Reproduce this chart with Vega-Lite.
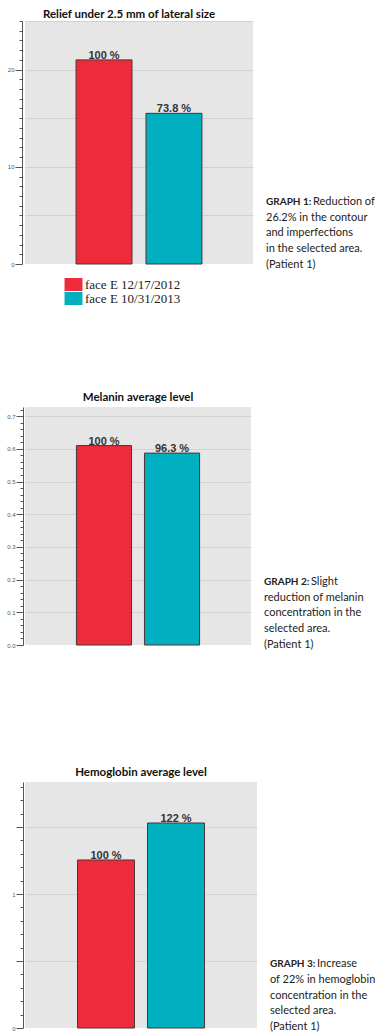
{
  "$schema": "https://vega.github.io/schema/vega-lite/v6.json",
  "padding": {"top": 9, "left": 0, "right": 0, "bottom": 0},
  "background": "white",
  "spacing": 0,
  "config": {
    "view": {"stroke": null},
    "axis": {"domainColor": "#555", "tickColor": "#555", "labelColor": "#555", "labelFont": "Liberation Sans", "labelFontSize": 6, "labelPadding": 1, "title": null, "gridColor": "#d2d2d2"},
    "title": {"font": "Lato", "fontSize": 11.5, "fontWeight": "bold", "color": "#111", "offset": 4},
    "legend": {"labelFont": "Liberation Serif", "labelFontSize": 13, "labelColor": "#222", "symbolType": "M-1.38,-1H1.38V1H-1.38Z", "symbolSize": 169, "symbolStrokeWidth": 0, "rowPadding": -3, "labelOffset": 5, "title": null}
  },
  "datasets": {
    "relief": [
      {"date": "face E 12/17/2012", "value": 21, "label": "100 %"},
      {"date": "face E 10/31/2013", "value": 15.5, "label": "73.8 %"}
    ],
    "melanin": [
      {"date": "face E 12/17/2012", "value": 0.61, "label": "100 %"},
      {"date": "face E 10/31/2013", "value": 0.587, "label": "96.3 %"}
    ],
    "hemoglobin": [
      {"date": "face E 12/17/2012", "value": 1.254, "label": "100 %"},
      {"date": "face E 10/31/2013", "value": 1.53, "label": "122 %"}
    ],
    "cap1": [
      {"line": 0, "prefix": "GRAPH 1:", "text": "Reduction of"},
      {"line": 1, "prefix": "", "text": "26.2% in the contour"},
      {"line": 2, "prefix": "", "text": "and imperfections"},
      {"line": 3, "prefix": "", "text": "in the selected area."},
      {"line": 4, "prefix": "", "text": "(Patient 1)"}
    ],
    "cap2": [
      {"line": 0, "prefix": "GRAPH 2:", "text": "Slight"},
      {"line": 1, "prefix": "", "text": "reduction of melanin"},
      {"line": 2, "prefix": "", "text": "concentration in the"},
      {"line": 3, "prefix": "", "text": "selected area."},
      {"line": 4, "prefix": "", "text": "(Patient 1)"}
    ],
    "cap3": [
      {"line": 0, "prefix": "GRAPH 3:", "text": "Increase"},
      {"line": 1, "prefix": "", "text": "of 22% in hemoglobin"},
      {"line": 2, "prefix": "", "text": "concentration in the"},
      {"line": 3, "prefix": "", "text": "selected area."},
      {"line": 4, "prefix": "", "text": "(Patient 1)"}
    ]
  },
  "vconcat": [
    {
      "hconcat": [
        {
          "width": 228, "height": 243,
          "title": {"text": "Relief under 2.5 mm of lateral size", "dx": -10, "dy": 4},
          "data": {"name": "relief"},
          "view": {"fill": "#e6e6e6", "stroke": null},
          "encoding": {
            "x": {"field": "date", "type": "nominal", "sort": null, "axis": null, "scale": {"paddingInner": 0.2, "paddingOuter": 0.73}},
            "y": {"field": "value", "type": "quantitative", "scale": {"domain": [0, 25], "nice": false},
              "axis": {"values": [0,1,2,3,4,5,6,7,8,9,10,11,12,13,14,15,16,17,18,19,20,21,22,23,24,25], "offset": 3, "minExtent": 19,
                "labelExpr": "datum.value % 10 === 0 ? datum.label : ''",
                "tickSize": {"condition": {"test": "datum.value % 10 === 0", "value": 7}, "value": 3},
                "grid": true,
                "gridOpacity": {"condition": {"test": "datum.value % 5 === 0 && datum.value > 0", "value": 1}, "value": 0}}}
          },
          "layer": [
            {"mark": {"type": "bar", "stroke": "#4a3535", "strokeWidth": 1},
             "encoding": {"color": {"field": "date", "type": "nominal", "sort": null,
               "scale": {"domain": ["face E 12/17/2012", "face E 10/31/2013"], "range": ["#ee2b3b", "#00b0c0"]},
               "legend": {"orient": "none", "legendX": 42, "legendY": 257, "direction": "vertical"}}}},
            {"mark": {"type": "text", "baseline": "alphabetic", "dy": -1, "font": "Liberation Sans", "fontWeight": "bold", "fontSize": 11, "color": "#333"},
             "encoding": {"text": {"field": "label"}}}
          ]
        },
        {
          "width": 110, "height": 370,
          "data": {"name": "cap1"},
          "encoding": {
            "x": {"datum": 0, "type": "quantitative", "scale": {"domain": [0, 1]}, "axis": null},
            "y": {"field": "line", "type": "quantitative", "scale": {"domain": [-11.492, 12.0], "reverse": true, "nice": false, "zero": false}, "axis": null}
          },
          "layer": [
            {"transform": [{"filter": "datum.line === 0"}], "mark": {"type": "text", "align": "left", "baseline": "middle", "font": "Lato", "fontSize": 10, "fontWeight": "bold", "color": "#222"}, "encoding": {"text": {"field": "prefix"}}},
            {"transform": [{"filter": "datum.line === 0"}], "mark": {"type": "text", "align": "left", "baseline": "middle", "font": "Lato", "fontSize": 11, "dx": 47, "color": "#222"}, "encoding": {"text": {"field": "text"}}},
            {"transform": [{"filter": "datum.line > 0"}], "mark": {"type": "text", "align": "left", "baseline": "middle", "font": "Lato", "fontSize": 11, "color": "#222"}, "encoding": {"text": {"field": "text"}}}
          ]
        }
      ],
      "spacing": 13
    },
    {
      "hconcat": [
        {
          "width": 226, "height": 238,
          "title": {"text": "Melanin average level"},
          "data": {"name": "melanin"},
          "view": {"fill": "#e6e6e6", "stroke": null},
          "encoding": {
            "x": {"field": "date", "type": "nominal", "sort": null, "axis": null, "scale": {"paddingInner": 0.19, "paddingOuter": 0.756}},
            "y": {"field": "value", "type": "quantitative", "scale": {"domain": [0, 0.728], "nice": false},
              "axis": {"values": [0,0.02,0.04,0.06,0.08,0.1,0.12,0.14,0.16,0.18,0.2,0.22,0.24,0.26,0.28,0.3,0.32,0.34,0.36,0.38,0.4,0.42,0.44,0.46,0.48,0.5,0.52,0.54,0.56,0.58,0.6,0.62,0.64,0.66,0.68,0.7,0.72], "offset": 2, "minExtent": 23,
                "labelExpr": "abs(datum.value * 10 - round(datum.value * 10)) < 0.001 ? format(datum.value, '.1f') : ''",
                "tickSize": {"condition": {"test": "abs(datum.value * 10 - round(datum.value * 10)) < 0.001", "value": 7}, "value": 3},
                "grid": true,
                "gridOpacity": {"condition": {"test": "abs(datum.value * 10 - round(datum.value * 10)) < 0.001 && datum.value > 0", "value": 1}, "value": 0}}}
          },
          "layer": [
            {"mark": {"type": "bar", "stroke": "#4a3535", "strokeWidth": 1},
             "encoding": {"color": {"field": "date", "type": "nominal", "sort": null, "legend": null}}},
            {"mark": {"type": "text", "baseline": "alphabetic", "dy": -1, "font": "Liberation Sans", "fontWeight": "bold", "fontSize": 11, "color": "#333"},
             "encoding": {"text": {"field": "label"}}}
          ]
        },
        {
          "width": 110, "height": 359,
          "data": {"name": "cap2"},
          "encoding": {
            "x": {"datum": 0, "type": "quantitative", "scale": {"domain": [0, 1]}, "axis": null},
            "y": {"field": "line", "type": "quantitative", "scale": {"domain": [-11.111, 11.683], "reverse": true, "nice": false, "zero": false}, "axis": null}
          },
          "layer": [
            {"transform": [{"filter": "datum.line === 0"}], "mark": {"type": "text", "align": "left", "baseline": "middle", "font": "Lato", "fontSize": 10, "fontWeight": "bold", "color": "#222"}, "encoding": {"text": {"field": "prefix"}}},
            {"transform": [{"filter": "datum.line === 0"}], "mark": {"type": "text", "align": "left", "baseline": "middle", "font": "Lato", "fontSize": 11, "dx": 47, "color": "#222"}, "encoding": {"text": {"field": "text"}}},
            {"transform": [{"filter": "datum.line > 0"}], "mark": {"type": "text", "align": "left", "baseline": "middle", "font": "Lato", "fontSize": 11, "color": "#222"}, "encoding": {"text": {"field": "text"}}}
          ]
        }
      ],
      "spacing": 13
    },
    {
      "hconcat": [
        {
          "width": 232, "height": 246,
          "title": {"text": "Hemoglobin average level"},
          "data": {"name": "hemoglobin"},
          "view": {"fill": "#e6e6e6", "stroke": null},
          "encoding": {
            "x": {"field": "date", "type": "nominal", "sort": null, "axis": null, "scale": {"paddingInner": 0.186, "paddingOuter": 0.75}},
            "y": {"field": "value", "type": "quantitative", "scale": {"domain": [0, 1.836], "nice": false},
              "axis": {"values": [0,0.1,0.2,0.3,0.4,0.5,0.6,0.7,0.8,0.9,1,1.1,1.2,1.3,1.4,1.5,1.6,1.7,1.8], "offset": 2, "minExtent": 17,
                "labelExpr": "abs(datum.value - round(datum.value)) < 0.001 ? format(datum.value, 'd') : ''",
                "tickSize": {"condition": {"test": "abs(datum.value * 2 - round(datum.value * 2)) < 0.001", "value": 7}, "value": 3},
                "grid": true,
                "gridOpacity": {"condition": {"test": "abs(datum.value * 2 - round(datum.value * 2)) < 0.001 && datum.value > 0", "value": 1}, "value": 0}}}
          },
          "layer": [
            {"mark": {"type": "bar", "stroke": "#4a3535", "strokeWidth": 1},
             "encoding": {"color": {"field": "date", "type": "nominal", "sort": null, "legend": null}}},
            {"mark": {"type": "text", "baseline": "alphabetic", "dy": -1, "font": "Liberation Sans", "fontWeight": "bold", "fontSize": 11, "color": "#333"},
             "encoding": {"text": {"field": "label"}}}
          ]
        },
        {
          "width": 110, "height": 248,
          "data": {"name": "cap3"},
          "encoding": {
            "x": {"datum": 0, "type": "quantitative", "scale": {"domain": [0, 1]}, "axis": null},
            "y": {"field": "line", "type": "quantitative", "scale": {"domain": [-11.556, 4.19], "reverse": true, "nice": false, "zero": false}, "axis": null}
          },
          "layer": [
            {"transform": [{"filter": "datum.line === 0"}], "mark": {"type": "text", "align": "left", "baseline": "middle", "font": "Lato", "fontSize": 10, "fontWeight": "bold", "color": "#222"}, "encoding": {"text": {"field": "prefix"}}},
            {"transform": [{"filter": "datum.line === 0"}], "mark": {"type": "text", "align": "left", "baseline": "middle", "font": "Lato", "fontSize": 11, "dx": 47, "color": "#222"}, "encoding": {"text": {"field": "text"}}},
            {"transform": [{"filter": "datum.line > 0"}], "mark": {"type": "text", "align": "left", "baseline": "middle", "font": "Lato", "fontSize": 11, "color": "#222"}, "encoding": {"text": {"field": "text"}}}
          ]
        }
      ],
      "spacing": 13
    }
  ]
}
